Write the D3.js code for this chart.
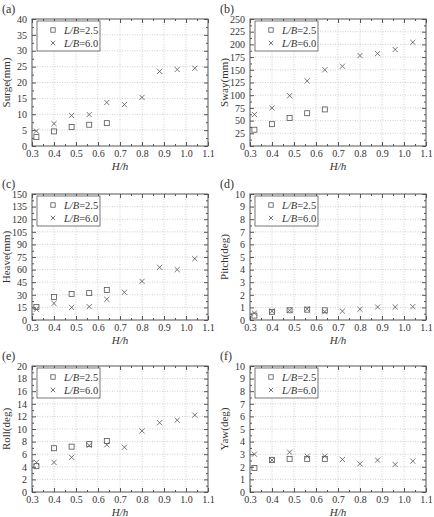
<!DOCTYPE html>
<html>
<head>
<meta charset="utf-8">
<script src="https://cdn.jsdelivr.net/npm/d3@7"></script>
<style>
  body { margin: 0; background: #fff; }
  text { font-family: "Liberation Serif", "Times New Roman", serif; fill: #333; }
</style>
</head>
<body>
<svg id="chart" width="434" height="517"></svg>
<script>
// H/h values
const hh = [0.32, 0.40, 0.48, 0.56, 0.64, 0.72, 0.80, 0.88, 0.96, 1.04];
const seriesNames = ["2.5", "6.0"];

// L/B=2.5 only has the first five points
const surge25 = [2.8, 4.6, 6.0, 6.7, 7.2];
const surge60 = [4.7, 7.05, 9.6, 9.9, 13.7, 13.05, 15.3, 23.5, 24.1, 24.5];
const sway25 = [32, 43, 55, 64.5, 72];
const sway60 = [62, 75, 99, 128, 150, 157, 178, 182, 190, 204];
const heave25 = [15.5, 27.4, 31, 32, 35.7];
const heave60 = [12.7, 19.8, 15, 15.9, 24.6, 33, 46, 62.7, 60, 73];
const pitch25 = [0.35, 0.65, 0.77, 0.82, 0.77];
const pitch60 = [0.55, 0.7, 0.77, 0.87, 0.66, 0.7, 0.85, 1.03, 1.03, 1.06];
const roll25 = [4.1, 6.95, 7.2, 7.6, 8.1];
const roll60 = [4.7, 4.7, 5.5, 7.4, 7.5, 7.1, 9.7, 11.0, 11.4, 12.2];
const yaw25 = [1.9, 2.55, 2.63, 2.63, 2.63];
const yaw60 = [3.0, 2.53, 3.16, 2.84, 2.84, 2.58, 2.24, 2.53, 2.18, 2.45];

const xTicks = [0.3, 0.4, 0.5, 0.6, 0.7, 0.8, 0.9, 1.0, 1.1];

const panels = [
  {tag: "(a)", title: "Surge(mm)", max: 40, step: 5, s25: surge25, s60: surge60},
  {tag: "(b)", title: "Sway(mm)", max: 250, step: 25, s25: sway25, s60: sway60},
  {tag: "(c)", title: "Heave(mm)", max: 150, step: 15, s25: heave25, s60: heave60},
  {tag: "(d)", title: "Pitch(deg)", max: 10, step: 1, s25: pitch25, s60: pitch60},
  {tag: "(e)", title: "Roll(deg)", max: 20, step: 2, s25: roll25, s60: roll60},
  {tag: "(f)", title: "Yaw(deg)", max: 10, step: 1, s25: yaw25, s60: yaw60}
];

const colX = [[32, 208], [250, 426]];
const rowY = [[19, 146], [194, 320], [366, 492]];
const ink = "#555";

const svg = d3.select("#chart");

panels.forEach(function(p, i) {
  let cx = colX[i % 2], ry = rowY[Math.floor(i / 2)];
  let w = cx[1] - cx[0], h = ry[1] - ry[0];

  let g = svg.append("g").attr("transform", "translate(" + cx[0] + "," + ry[0] + ")");

  let x = d3.scaleLinear().domain([0.3, 1.1]).range([0, w]);
  let y = d3.scaleLinear().domain([0, p.max]).range([h, 0]);
  let yTicks = d3.range(0, p.max + p.step / 2, p.step);

  // dotted grid
  g.append("g").selectAll("line").data(xTicks.slice(1, -1)).join("line")
    .attr("x1", d => x(d)).attr("x2", d => x(d)).attr("y1", 0).attr("y2", h)
    .attr("stroke", "#bbb").attr("stroke-width", 0.7).attr("stroke-dasharray", "1,1.5");
  g.append("g").selectAll("line").data(yTicks.slice(1, -1)).join("line")
    .attr("y1", d => y(d)).attr("y2", d => y(d)).attr("x1", 0).attr("x2", w)
    .attr("stroke", "#bbb").attr("stroke-width", 0.7).attr("stroke-dasharray", "1,1.5");

  // axes with inward ticks on all four sides
  let minorX = d3.range(0.35, 1.1, 0.1);
  let minorY = yTicks.slice(0, -1).map(d => d + p.step / 2);

  function tickAxis(axis, tr) {
    let a = g.append("g").attr("transform", tr).call(axis);
    a.select(".domain").remove();
    a.selectAll("line").attr("stroke", ink);
    return a;
  }

  let xb = tickAxis(d3.axisBottom(x).tickValues(xTicks).tickSize(-4).tickPadding(4).tickFormat(d3.format(".1f")), "translate(0," + h + ")");
  xb.selectAll("text").attr("font-size", 10).attr("fill", "#333");
  tickAxis(d3.axisBottom(x).tickValues(minorX).tickSize(-2).tickFormat(""), "translate(0," + h + ")");
  tickAxis(d3.axisTop(x).tickValues(xTicks).tickSize(-4).tickFormat(""), "translate(0,0)");
  tickAxis(d3.axisTop(x).tickValues(minorX).tickSize(-2).tickFormat(""), "translate(0,0)");

  let yl = tickAxis(d3.axisLeft(y).tickValues(yTicks).tickSize(-4).tickPadding(5), "translate(0,0)");
  yl.selectAll("text").attr("font-size", 10).attr("fill", "#333");
  tickAxis(d3.axisLeft(y).tickValues(minorY).tickSize(-2).tickFormat(""), "translate(0,0)");
  tickAxis(d3.axisRight(y).tickValues(yTicks).tickSize(-4).tickFormat(""), "translate(" + w + ",0)");
  tickAxis(d3.axisRight(y).tickValues(minorY).tickSize(-2).tickFormat(""), "translate(" + w + ",0)");

  g.append("rect").attr("width", w).attr("height", h)
    .attr("fill", "none").attr("stroke", ink).attr("stroke-width", 1);

  // markers
  let sq = 5, cr = 2.6;
  g.append("g").selectAll("rect").data(p.s25).join("rect")
    .attr("x", (d, j) => x(hh[j]) - sq / 2).attr("y", d => y(d) - sq / 2)
    .attr("width", sq).attr("height", sq)
    .attr("fill", "none").attr("stroke", ink).attr("stroke-width", 0.8);
  g.append("g").selectAll("path").data(p.s60).join("path")
    .attr("d", (d, j) => {
      let px = x(hh[j]), py = y(d);
      return "M" + (px - cr) + "," + (py - cr) + "L" + (px + cr) + "," + (py + cr) +
             "M" + (px - cr) + "," + (py + cr) + "L" + (px + cr) + "," + (py - cr);
    })
    .attr("stroke", ink).attr("stroke-width", 0.8).attr("fill", "none");

  // legend
  let lg = g.append("g").attr("transform", "translate(5,2)");
  lg.append("rect").attr("width", 63).attr("height", 30)
    .attr("fill", "#fff").attr("stroke", ink).attr("stroke-width", 0.8);
  seriesNames.forEach(function(s, k) {
    let ly = 9 + k * 13;
    if (k === 0) {
      lg.append("rect").attr("x", 16 - 2.2).attr("y", ly - 2.2).attr("width", 4.4).attr("height", 4.4)
        .attr("fill", "none").attr("stroke", ink).attr("stroke-width", 0.8);
    } else {
      lg.append("path").attr("d", "M13.8," + (ly - 2.2) + "L18.2," + (ly + 2.2) + "M13.8," + (ly + 2.2) + "L18.2," + (ly - 2.2))
        .attr("stroke", ink).attr("stroke-width", 0.8);
    }
    let t = lg.append("text").attr("x", 27).attr("y", ly + 3.6).attr("font-size", 10.5);
    t.append("tspan").attr("font-style", "italic").text("L/B");
    t.append("tspan").text("=" + s);
  });

  // titles
  g.append("text").attr("x", w / 2).attr("y", h + 24).attr("text-anchor", "middle")
    .attr("font-size", 11).attr("font-style", "italic").text("H/h");
  g.append("text").attr("transform", "translate(-22," + (h / 2) + ") rotate(-90)")
    .attr("text-anchor", "middle").attr("font-size", 11).text(p.title);
  g.append("text").attr("x", -30).attr("y", -6).attr("font-size", 12).text(p.tag);
});
</script>
</body>
</html>
